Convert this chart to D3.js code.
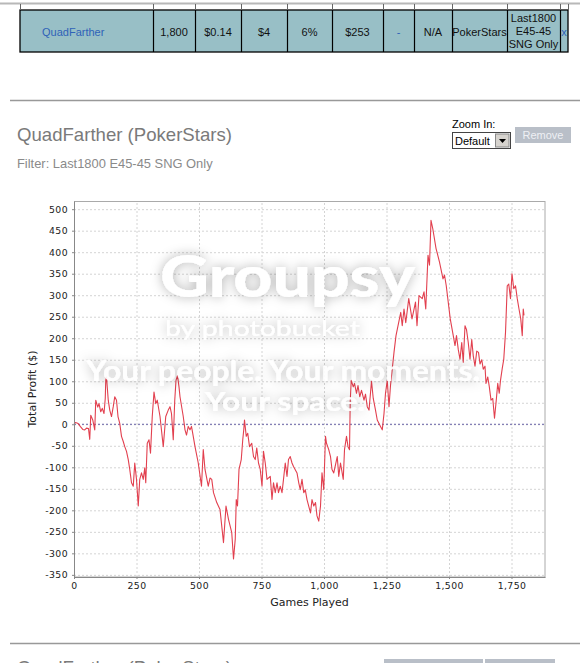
<!DOCTYPE html>
<html><head><meta charset="utf-8">
<script src="https://cdn.jsdelivr.net/npm/d3@7"></script>
<style>body{margin:0;background:#fff}svg{display:block}</style></head>
<body>
<svg id="c" width="580" height="663"></svg>
<script>
// ---- data ----
const games  = [0,5,12,16,25,35,43,50,58,63,67,75,83,87,95,100,107,113,120,125,127,130,137,143,150,157,163,170,176,183,190,197,203,210,217,223,230,237,243,250,257,263,270,277,283,287,293,300,306,313,320,327,333,344,357,367,377,384,390,397,403,408,414,420,424,437,444,450,457,464,470,477,484,497,510,517,524,537,544,551,558,571,584,598,608,618,631,638,645,649,654,660,669,675,679,682,689,695,702,711,718,725,731,738,745,752,758,765,772,785,792,798,805,812,818,825,832,838,845,852,858,865,872,878,892,899,905,912,919,925,932,946,952,959,966,972,979,986,992,999,1006,1010,1019,1026,1032,1039,1053,1059,1066,1077,1082,1090,1096,1102,1105,1109,1117,1122,1130,1136,1143,1150,1160,1166,1173,1180,1190,1197,1206,1213,1226,1233,1240,1246,1253,1260,1266,1280,1288,1307,1313,1320,1327,1339,1352,1366,1372,1380,1393,1400,1407,1416,1422,1428,1435,1448,1455,1462,1476,1482,1489,1505,1517,1524,1530,1537,1544,1551,1557,1564,1570,1577,1584,1591,1597,1604,1611,1618,1624,1631,1637,1644,1648,1655,1661,1668,1675,1682,1689,1695,1701,1706,1713,1719,1726,1733,1739,1746,1752,1759,1766,1773,1780,1787,1793,1797,1800];
const profit = [0,4,3,2,-5,-12,-13,-9,-10,-35,21,10,-13,56,40,48,29,37,25,60,102,110,56,33,18,41,64,56,18,2,-28,-40,-52,-63,-82,-105,-136,-144,-90,-128,-190,-128,-113,-128,-101,-136,-44,-36,-67,18,75,48,56,18,-52,18,33,41,25,-36,56,102,113,87,64,18,-13,-25,-5,-13,-5,-28,-52,-90,-144,-59,-105,-144,-125,-128,-159,-182,-198,-275,-190,-221,-252,-313,-267,-175,-190,-105,-82,-36,-13,10,-28,-21,-52,-44,-75,-82,-55,-90,-105,-144,-63,-90,-128,-121,-175,-136,-159,-136,-159,-144,-159,-128,-90,-121,-82,-75,-90,-98,-113,-136,-152,-128,-159,-152,-175,-206,-175,-190,-182,-213,-225,-190,-113,-152,-28,-44,-59,-75,-105,-113,-75,-121,-90,-128,-59,-28,-52,-59,56,102,87,95,72,90,64,79,56,70,41,33,100,60,33,10,-5,-13,25,72,102,41,90,167,206,260,229,268,236,292,245,284,229,299,292,308,268,393,370,474,455,409,393,377,338,347,322,245,206,183,206,174,151,190,144,229,220,190,151,197,159,135,170,167,140,150,128,135,95,110,88,56,60,14,56,95,72,102,130,151,213,322,326,292,350,315,322,292,268,245,206,268,253];
const xTicks = [0,250,500,750,1000,1250,1500,1750];
const yTicks = [-350,-300,-250,-200,-150,-100,-50,0,50,100,150,200,250,300,350,400,450,500];
const tableEdges = [20,153,195,241,287,332,383,414,452,507,560,568];
const tableCells = ["QuadFarther","1,800","$0.14","$4","6%","$253","-","N/A","PokerStars","Last1800|E45-45|SNG Only","x"];
const blueCells = [0,6,10];

const svg = d3.select("#c");
const F = "'Liberation Sans', Arial, sans-serif";
const CF = "'DejaVu Sans', Verdana, sans-serif";

// ---- top table ----
svg.append("line").attr("x1",0).attr("x2",580).attr("y1",3.5).attr("y2",3.5).attr("stroke","#b8b8b8").attr("stroke-width",2);
svg.append("rect").attr("x",tableEdges[0]).attr("y",10).attr("width",tableEdges[tableEdges.length-1]-tableEdges[0]).attr("height",42)
  .attr("fill","#98bfc6").attr("stroke","#000").attr("stroke-width",1.3);
tableEdges.forEach((e,i)=>{
  svg.append("line").attr("x1",e+0.5).attr("x2",e+0.5).attr("y1",4).attr("y2",10).attr("stroke","#666");
  if(i>0 && i<tableEdges.length-1) svg.append("line").attr("x1",e+0.5).attr("x2",e+0.5).attr("y1",10).attr("y2",52).attr("stroke","#000").attr("stroke-width",1.2);
});
tableCells.forEach((t,i)=>{
  const cx=(tableEdges[i]+tableEdges[i+1])/2;
  const lines=t.split("|");
  const txt=svg.append("text").attr("font-family",F).attr("font-size",11)
    .attr("fill",blueCells.includes(i)?"#2f62b8":"#111")
    .attr("text-anchor",i===0?"start":"middle").attr("x",i===0?42:cx);
  lines.forEach((l,k)=>{
    txt.append("tspan").attr("x",i===0?42:cx).attr("y",lines.length===1?35.5:22+k*13).text(l);
  });
});

// ---- section header ----
svg.append("line").attr("x1",10).attr("x2",580).attr("y1",100.5).attr("y2",100.5).attr("stroke","#999").attr("stroke-width",1.4);
svg.append("text").attr("x",17).attr("y",140.5).attr("font-family",F).attr("font-size",18.6).attr("fill","#7a7a7a").text("QuadFarther (PokerStars)");
svg.append("text").attr("x",17).attr("y",168).attr("font-family",F).attr("font-size",12.9).attr("fill","#8a8a8a").text("Filter: Last1800 E45-45 SNG Only");

// controls
svg.append("text").attr("x",452).attr("y",128).attr("font-family",F).attr("font-size",11).attr("fill","#000").text("Zoom In:");
svg.append("rect").attr("x",452.5).attr("y",132.5).attr("width",58).attr("height",16).attr("fill","#fff").attr("stroke","#444");
svg.append("text").attr("x",455).attr("y",144.5).attr("font-family",F).attr("font-size",11).attr("fill","#000").text("Default");
svg.append("rect").attr("x",495.5).attr("y",134).attr("width",13.5).attr("height",13).attr("fill","#d6d3ce").attr("stroke","#888");
svg.append("path").attr("d","M499,139 L506,139 L502.5,143 Z").attr("fill","#000");
svg.append("rect").attr("x",515).attr("y",127).attr("width",56).attr("height",16).attr("fill","#b9bfc8");
svg.append("text").attr("x",543).attr("y",139).attr("text-anchor","middle").attr("font-family",F).attr("font-size",11).attr("fill","#eef0f4").text("Remove");

// ---- chart ----
const L=74,R=545,T=201,B=577;
const x=d3.scaleLinear().domain([0,1884]).range([L,R]);
const y=d3.scaleLinear().domain([-355,519]).range([B,T]);
const loc=d3.formatLocale({decimal:".",thousands:",",grouping:[3],currency:["$",""],minus:"-"});
const fmt=loc.format(",");

svg.append("rect").attr("x",L).attr("y",T).attr("width",R-L).attr("height",B-T).attr("fill","#fff");
// grid
const gx=svg.append("g").attr("transform",`translate(0,${B})`).call(d3.axisBottom(x).tickValues(xTicks).tickSize(-(B-T)).tickFormat(""));
const gy=svg.append("g").attr("transform",`translate(${L},0)`).call(d3.axisLeft(y).tickValues(yTicks).tickSize(-(R-L)).tickFormat(""));
[gx,gy].forEach(g=>{g.select(".domain").remove();g.selectAll("line").attr("stroke","#d4d4d4").attr("stroke-dasharray","2,2");});
// zero marker
svg.append("line").attr("x1",L).attr("x2",R).attr("y1",y(0)).attr("y2",y(0)).attr("stroke","#6a64a8").attr("stroke-dasharray","2,2");
// border
svg.append("rect").attr("x",L+0.5).attr("y",T+0.5).attr("width",R-L-0.5).attr("height",B-T-0.5).attr("fill","none").attr("stroke","#aaa");

// line
svg.append("path").datum(games.map((g,i)=>[g,profit[i]]))
  .attr("d",d3.line().x(d=>x(d[0])).y(d=>y(d[1])))
  .attr("fill","none").attr("stroke","#e2404f").attr("stroke-width",1.1).attr("stroke-linejoin","round");

// axes
const ax=svg.append("g").attr("transform",`translate(0,${B})`).call(d3.axisBottom(x).tickValues(xTicks).tickSize(2).tickSizeOuter(0).tickPadding(3).tickFormat(fmt));
const ay=svg.append("g").attr("transform",`translate(${L},0)`).call(d3.axisLeft(y).tickValues(yTicks).tickSize(2).tickSizeOuter(0).tickPadding(4).tickFormat(fmt));
[ax,ay].forEach(g=>{
  g.select(".domain").attr("stroke","#888");
  g.selectAll("line").attr("stroke","#888");
  g.selectAll("text").attr("font-family",CF).attr("font-size",9.3).attr("fill","#222").attr("letter-spacing",0.4);
});
svg.append("text").attr("x",(L+R)/2).attr("y",606).attr("text-anchor","middle").attr("font-family",CF).attr("font-size",11).attr("fill","#222").text("Games Played");
svg.append("text").attr("transform",`translate(36,${(T+B)/2}) rotate(-90)`).attr("text-anchor","middle").attr("font-family",CF).attr("font-size",11).attr("fill","#222").text("Total Profit ($)");

// ---- watermark overlay ----
const defs=svg.append("defs");
const f=defs.append("filter").attr("id","wm").attr("x","-20%").attr("y","-50%").attr("width","140%").attr("height","200%");
f.append("feGaussianBlur").attr("in","SourceAlpha").attr("stdDeviation",6).attr("result","b");
f.append("feFlood").attr("flood-color","#000").attr("flood-opacity",0.3);
f.append("feComposite").attr("in2","b").attr("operator","in").attr("result","s");
const m=f.append("feMerge"); m.append("feMergeNode").attr("in","s"); m.append("feMergeNode").attr("in","SourceGraphic");
const wm=svg.append("g").attr("filter","url(#wm)").attr("fill","#fff").attr("font-family","Lato, 'Open Sans', sans-serif");
wm.append("text").attr("x",160).attr("y",297).attr("font-size",58).attr("font-weight",900).attr("textLength",255).attr("lengthAdjust","spacingAndGlyphs").text("Groupsy");
wm.append("text").attr("x",165).attr("y",336).attr("font-size",22).attr("font-weight",400).attr("textLength",195).attr("lengthAdjust","spacingAndGlyphs").text("by photobucket");
wm.append("text").attr("x",86).attr("y",381).attr("font-size",28).attr("font-weight",700).attr("textLength",394).attr("lengthAdjust","spacingAndGlyphs").attr("opacity",0.92).text("Your people. Your moments.");
wm.append("text").attr("x",205).attr("y",411).attr("font-size",26).attr("font-weight",700).attr("textLength",160).attr("lengthAdjust","spacingAndGlyphs").attr("opacity",0.92).text("Your space.");

// ---- next section (cut off) ----
svg.append("line").attr("x1",10).attr("x2",580).attr("y1",643.5).attr("y2",643.5).attr("stroke","#999").attr("stroke-width",1.4);
svg.append("text").attr("x",17).attr("y",674).attr("font-family",F).attr("font-size",18.6).attr("fill","#7a7a7a").text("QuadFarther (PokerStars)");
svg.append("rect").attr("x",384).attr("y",659).attr("width",99).attr("height",6).attr("fill","#b9bfc8");
svg.append("rect").attr("x",485).attr("y",659).attr("width",70).attr("height",6).attr("fill","#b9bfc8");
</script>
</body></html>
